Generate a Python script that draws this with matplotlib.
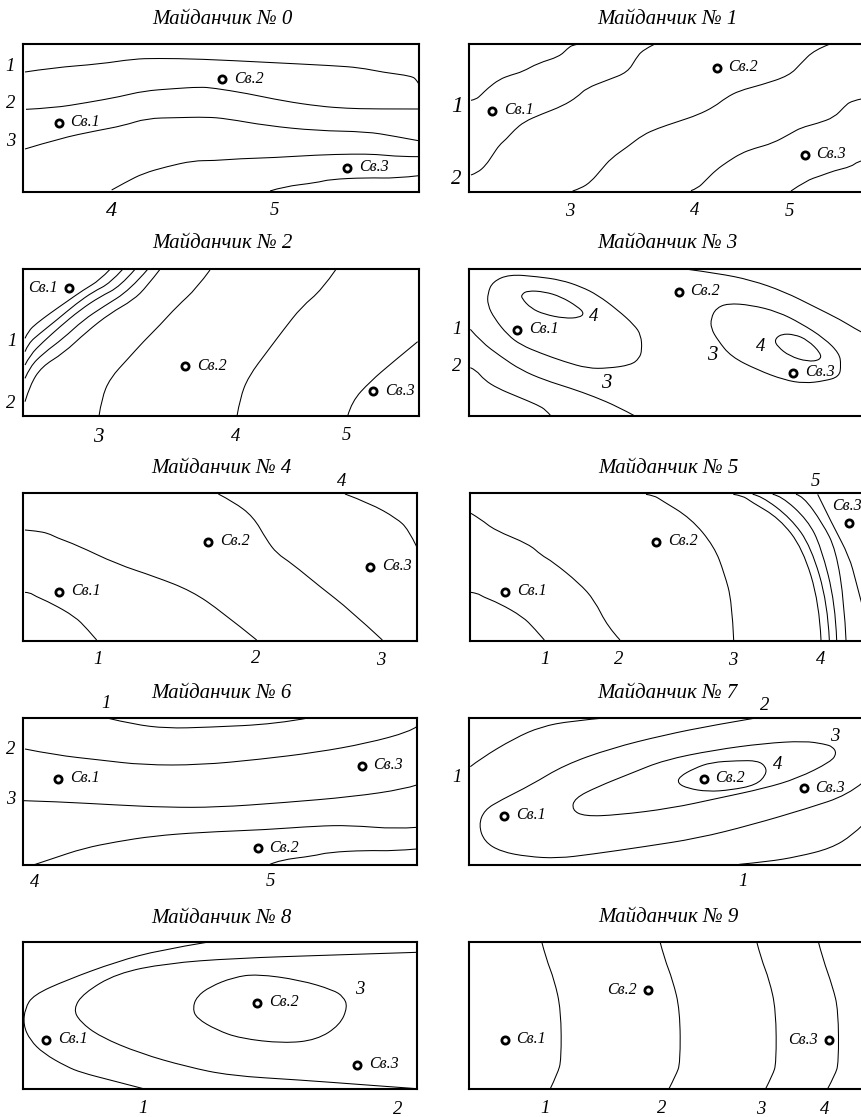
import matplotlib
matplotlib.use('Agg')
import matplotlib.pyplot as plt
from matplotlib.path import Path
from matplotlib.patches import PathPatch

plt.rcParams['font.family'] = ['Liberation Serif', 'DejaVu Serif']

# Contours, (x, y) in scan units of each panel's crop
contours_0 = [
    [(75,216),(160,203),(300,192),(400,177),(470,175),(600,177),(800,187),(1000,197),(1080,203),(1150,217),(1235,228),(1250,240),(1255,250)],
    [(78,328),(160,324),(260,308),(360,290),(430,273),(520,266),(600,261),(640,264),(740,280),(850,303),(960,319),(1040,325),(1120,327),(1257,327)],
    [(75,447),(180,415),(290,392),(370,377),(440,355),(530,353),(620,351),(680,356),(800,377),(950,392),(1100,395),(1180,408),(1255,422)],
    [(335,570),(380,545),(430,520),(500,500),(580,482),(640,482),(720,476),(820,473),(950,465),(1060,462),(1130,463),(1200,470),(1257,470)],
    [(810,573),(850,560),(950,548),(990,538),(1100,533),(1190,535),(1257,527)],
]
contours_1 = [
    [(120,301),(135,298),(150,285),(170,265),(205,238),(240,225),(275,215),(320,190),(385,170),(410,145),(425,135),(440,133)],
    [(120,525),(140,518),(165,495),(185,465),(205,435),(225,418),(250,390),(280,365),(330,343),(395,318),(440,290),(465,265),(530,240),(590,217),(615,175),(635,150),(670,133)],
    [(425,573),(450,565),(480,545),(510,510),(540,475),(590,440),(635,405),(680,385),(740,365),(800,345),(850,320),(885,293),(925,272),(990,255),(1075,227),(1110,190),(1150,150),(1195,133)],
    [(780,572),(800,565),(825,540),(855,510),(890,485),(930,460),(970,445),(1025,430),(1080,400),(1110,383),(1160,370),(1210,352),(1240,320),(1260,303),(1295,296)],
    [(1080,573),(1125,542),(1170,527),(1210,512),(1260,500),(1280,485),(1295,482)],
]
contours_2 = [
    [(75,340),(85,318),(110,295),(150,265),(200,230),(250,195),(300,165),(330,133)],
    [(75,380),(85,355),(120,325),(170,285),(230,235),(280,200),(330,175),(368,133)],
    [(75,420),(90,390),(130,350),(180,305),(240,255),(300,215),(360,185),(405,133)],
    [(75,460),(90,425),(130,385),(190,340),(250,285),(310,245),(390,195),(443,133)],
    [(75,530),(90,480),(125,425),(190,385),(260,320),(330,265),(400,225),(440,185),(480,133)],
    [(297,573),(305,520),(330,460),(385,400),(430,350),(480,300),(530,245),(590,190),(630,135)],
    [(711,573),(720,520),(745,455),(805,375),(850,315),(905,245),(965,195),(1008,133)],
    [(1043,573),(1055,530),(1110,470),(1180,410),(1253,350)],
]
contours_3 = [
    [(118,313),(150,350),(210,395),(270,435),(340,465),(420,490),(490,515),(560,545),(610,572)],
    [(118,428),(135,435),(160,465),(200,490),(260,515),(320,540),(345,555),(360,573)],
    [(770,133),(860,145),(960,165),(1060,200),(1150,245),(1230,285),(1270,310),(1293,322)],
    [(235,148),(320,155),(390,165),(450,185),(500,210),(560,255),(610,300),(630,330),(633,375),(625,400),(600,420),(530,430),(470,430),(400,410),(330,385),(270,360),(230,330),(190,280),(170,240),(170,205),(185,170),(235,148)],
    [(290,197),(340,200),(390,215),(440,245),(460,265),(445,278),(400,280),(340,268),(300,250),(272,220),(272,208),(290,197)],
    [(890,235),(960,240),(1040,260),(1110,295),(1180,340),(1225,385),(1230,420),(1225,455),(1180,468),(1120,475),(1060,465),(980,435),(900,395),(860,345),(840,310),(840,280),(855,250),(890,235)],
    [(1050,327),(1090,328),(1130,345),(1170,385),(1168,405),(1130,410),(1075,393),(1040,365),(1030,345),(1050,327)],
]
contours_4 = [
    [(75,427),(90,428),(105,438),(155,460),(225,500),(260,535),(290,570)],
    [(75,240),(110,243),(145,250),(170,263),(230,285),(350,342),(465,380),(575,423),(665,485),(770,570)],
    [(655,132),(700,155),(760,200),(800,270),(830,310),(875,340),(960,410),(1050,480),(1147,570)],
    [(1035,132),(1110,160),(1190,205),(1225,238),(1250,290)],
]
contours_5 = [
    [(120,427),(140,430),(155,440),(205,460),(275,500),(310,535),(340,570)],
    [(120,190),(150,208),(190,240),(295,283),(330,315),(365,335),(445,400),(490,450),(530,530),(567,570)],
    [(645,133),(670,137),(690,150),(780,205),(850,290),(880,370),(903,455),(908,570)],
    [(907,133),(935,137),(960,155),(1045,205),(1115,295),(1165,460),(1170,570)],
    [(965,133),(990,137),(1080,205),(1140,290),(1190,460),(1195,570)],
    [(1025,133),(1050,137),(1130,210),(1170,290),(1213,460),(1217,570)],
    [(1095,133),(1115,137),(1175,220),(1215,300),(1240,460),(1245,570)],
    [(1160,133),(1205,225),(1255,320),(1275,395),(1292,460)],
]
contours_6 = [
    [(325,130),(400,148),(500,160),(620,157),(830,147),(930,128)],
    [(75,222),(165,240),(300,255),(430,270),(600,270),(780,253),(950,232),(1100,205),(1230,170),(1250,155)],
    [(70,377),(170,380),(350,390),(500,397),(650,397),(850,383),(1060,365),(1215,342),(1250,330)],
    [(100,570),(160,550),(250,520),(350,500),(460,483),(600,472),(800,464),(950,453),(1050,451),(1190,462),(1250,457)],
    [(810,568),(840,555),(940,543),(985,532),(1100,526),(1180,528),(1250,522)],
]
contours_7 = [
    [(118,275),(150,250),(250,190),(330,155),(420,138),(530,128)],
    [(980,128),(850,150),(700,180),(540,220),(400,270),(300,330),(210,375),(160,405),(143,450),(160,500),(210,530),(290,545),(380,550),(480,538),(640,515),(800,490),(960,450),(1130,400),(1250,360),(1295,323)],
    [(1180,207),(1120,198),(1000,205),(850,225),(700,255),(600,295),(500,335),(430,370),(423,405),(460,424),(560,420),(720,400),(860,370),(1000,340),(1100,310),(1200,260),(1217,235),(1205,215),(1180,207)],
    [(840,262),(920,257),(980,257),(1005,275),(1005,300),(975,330),(900,345),(830,350),(770,340),(740,325),(745,305),(790,280),(840,262)],
    [(925,568),(1010,560),(1100,545),(1200,520),(1265,480),(1295,450)],
]
contours_8 = [
    [(620,127),(480,150),(350,185),(200,240),(100,285),(75,325),(70,375),(90,420),(130,460),(200,500),(245,518),(330,540),(430,566)],
    [(1250,157),(1000,165),(700,175),(500,190),(350,220),(250,280),(220,327),(240,365),(300,410),(420,460),(560,500),(690,527),(900,540),(1100,555),(1250,566)],
    [(770,222),(700,232),(630,260),(590,290),(578,325),(590,355),(650,390),(720,415),(850,430),(950,420),(1020,375),(1043,320),(1030,290),(1000,270),(900,240),(770,222)],
]
contours_9 = [
    [(332,125),(345,175),(370,240),(390,330),(391,480),(380,520),(357,568)],
    [(687,125),(700,175),(725,240),(747,330),(748,490),(735,525),(713,568)],
    [(977,125),(990,175),(1015,240),(1035,330),(1036,490),(1025,525),(1003,568)],
    [(1162,125),(1175,175),(1205,260),(1222,330),(1223,490),(1212,525),(1189,568)],
]
all_contours = [contours_0, contours_1, contours_2, contours_3, contours_4,
                contours_5, contours_6, contours_7, contours_8, contours_9]

# Wells Св.1, Св.2, Св.3 per panel
well_names = ['Св.1', 'Св.2', 'Св.3']
wells_0 = [(176,368),(666,238),(1042,504)]
wells_1 = [(184,332),(857,203),(1121,464)]
wells_2 = [(207,188),(555,424),(1119,499)]
wells_3 = [(258,314),(743,200),(1087,443)]
wells_4 = [(177,425),(625,275),(1110,350)]
wells_5 = [(222,425),(675,275),(1255,218)]
wells_6 = [(175,311),(773,520),(1085,272)]
wells_7 = [(220,422),(818,311),(1118,340)]
wells_8 = [(138,420),(772,308),(1072,495)]
wells_9 = [(221,420),(651,269),(1194,420)]
all_wells = [wells_0, wells_1, wells_2, wells_3, wells_4,
             wells_5, wells_6, wells_7, wells_8, wells_9]

# Isoline numbers as printed
levels_0 = [('1',30,200),('2',33,312),('3',33,425),('4',335,635),('5',822,632)]
levels_1 = [('1',78,320),('2',77,538),('3',415,635),('4',790,632),('5',1075,635)]
levels_2 = [('1',35,350),('2',33,537),('3',295,637),('4',706,634),('5',1040,630)]
levels_3 = [('1',77,312),('2',77,425),('3',527,475),('4',487,275),('3',843,392),('4',990,365)]
levels_4 = [('1',295,628),('2',768,625),('3',1143,632),('4',1025,95)]
levels_5 = [('1',343,630),('2',562,627),('3',905,632),('4',1170,630),('5',1152,95)]
levels_6 = [('1',318,87),('2',33,222),('3',33,372),('4',103,622),('5',810,620)]
levels_7 = [('1',77,307),('1',937,620),('2',1002,90),('3',1212,185),('4',1040,268)]
levels_8 = [('1',430,627),('2',1192,630),('3',1078,268)]
levels_9 = [('1',342,627),('2',692,625),('3',990,628),('4',1180,630)]
all_levels = [levels_0, levels_1, levels_2, levels_3, levels_4,
              levels_5, levels_6, levels_7, levels_8, levels_9]

W, H = 862, 1117
SCALE = 3.0

# crop origin (px) and frame (scan units) for every panel
crop_x = [0, 431] * 5
crop_y = [0, 0, 225, 225, 450, 450, 675, 675, 900, 900]
frames = [(70,1257,133,575), (115,1298,133,575), (70,1257,132,573), (115,1298,132,573),
          (70,1250,130,572), (117,1298,130,572), (70,1250,128,570), (115,1298,128,570),
          (70,1250,125,568), (115,1298,125,568)]
title_pos = [(668,57), (708,57), (668,57), (708,57), (665,57),
             (712,55), (665,55), (708,55), (665,55), (712,52)]
# the scan prints a few numbers larger than the rest
big_levels = {(0, '4'): 16, (1, '1'): 17, (1, '2'): 15, (2, '3'): 15, (3, '3'): 15}


def smooth_path(pts):
    # quadratic curve through the midpoints, the originals are hand drawn
    closed = pts[0] == pts[-1]
    mid = lambda a, b: ((a[0] + b[0]) / 2, (a[1] + b[1]) / 2)
    if closed:
        pts = pts[:-1]
        start = mid(pts[-1], pts[0])
        verts, codes = [start], [Path.MOVETO]
        for k in range(len(pts)):
            verts += [pts[k], mid(pts[k], pts[(k + 1) % len(pts)])]
            codes += [Path.CURVE3, Path.CURVE3]
        return Path(verts, codes)
    verts, codes = [pts[0]], [Path.MOVETO]
    for k in range(1, len(pts) - 1):
        end = mid(pts[k], pts[k + 1]) if k < len(pts) - 2 else pts[-1]
        verts += [pts[k], end]
        codes += [Path.CURVE3, Path.CURVE3]
    return Path(verts, codes)


fig = plt.figure(figsize=(W / 100, H / 100), dpi=100, facecolor='white')

for i in range(10):
    x0, x1, y0, y1 = frames[i]
    left = (crop_x[i] + x0 / SCALE) / W
    width = (x1 - x0) / SCALE / W
    bottom = 1 - (crop_y[i] + y1 / SCALE) / H
    height = (y1 - y0) / SCALE / H
    ax = fig.add_axes([left, bottom, width, height])
    ax.set_xlim(x0, x1)
    ax.set_ylim(y1, y0)
    ax.set_xticks([])
    ax.set_yticks([])
    for spine in ax.spines.values():
        spine.set_linewidth(1.5)

    for line in all_contours[i]:
        ax.add_patch(PathPatch(smooth_path(line), fc='none', ec='black', lw=0.75, clip_on=False))

    for j, (wx, wy) in enumerate(all_wells[i]):
        ax.plot(wx, wy, 'o', ms=5.2, mfc='white', mec='black', mew=2.0, zorder=5)
        # a few names sit left of or above the well
        if (i == 2 and j == 0) or (i == 9 and j > 0):
            ax.text(wx - 33, wy, well_names[j], style='italic', fontsize=11.5, ha='right', va='center')
        elif i == 5 and j == 2:
            ax.text(wx - 8, wy - 51, well_names[j], style='italic', fontsize=11.5, ha='center', va='center')
        else:
            ax.text(wx + 35, wy - 2, well_names[j], style='italic', fontsize=11.5, ha='left', va='center')

    for text, lx, ly in all_levels[i]:
        size = big_levels.get((i, text), 13.5)
        ax.text(lx, ly, text, style='italic', fontsize=size, ha='center', va='center')

    tx, ty = title_pos[i]
    ax.text(tx, ty, 'Майданчик № %d' % i, style='italic', fontsize=15, ha='center', va='center')

plt.savefig('out.png', dpi=100)
